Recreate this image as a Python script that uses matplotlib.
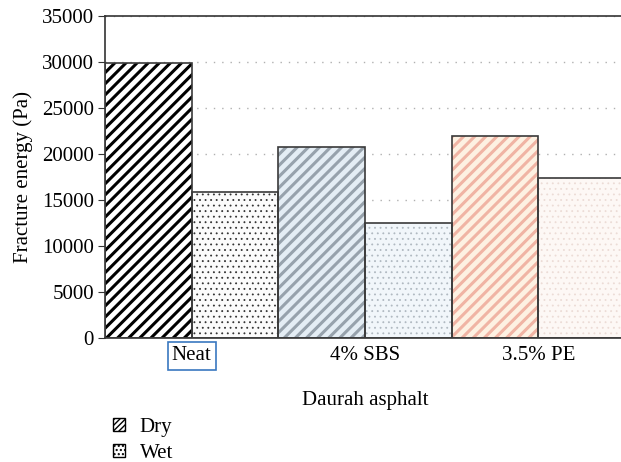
import matplotlib.pyplot as plt
import numpy as np
from matplotlib.patches import Patch

plt.rcParams['font.family'] = ['Liberation Serif', 'DejaVu Serif']

categories = ['Neat', '4% SBS', '3.5% PE']
dry = [29900, 20800, 22000]
wet = [15900, 12500, 17400]

# fill colour and hatch colour per bar
dry_face = ['white', '#e4edf4', '#fdf1e2']
dry_hatch = ['black', '#97a2ac', '#f0b4a4']
wet_face = ['#fbfbfb', '#f1f6fa', '#fdf8f5']
wet_hatch = ['#333333', '#b0b9c1', '#ecdcd6']

fig = plt.figure(figsize=(6.21, 4.62), dpi=100)
ax = fig.add_axes([105/621, 1-338/462, 520/621, 322/462])

x = np.arange(len(categories))
w = 0.5

ax.set_axisbelow(True)
ax.yaxis.grid(True, linestyle=(0, (1, 5)), color='#b0b0b0', linewidth=1.0)

for i in range(len(categories)):
    with plt.rc_context({'hatch.linewidth': 2.2}):
        ax.bar(x[i] - w/2, dry[i], w, color=dry_face[i], edgecolor=dry_hatch[i],
               hatch='///', linewidth=0, zorder=2)
    with plt.rc_context({'hatch.linewidth': 0.6}):
        ax.bar(x[i] + w/2, wet[i], w, color=wet_face[i], edgecolor=wet_hatch[i],
               hatch='...', linewidth=0, zorder=2)
ax.bar(x - w/2, dry, w, facecolor='none', edgecolor='#3a3a3a', linewidth=1.2, zorder=3)
ax.bar(x + w/2, wet, w, facecolor='none', edgecolor='#3a3a3a', linewidth=1.2, zorder=3)

ax.set_xlim(-0.5, 2.5)
ax.set_ylim(0, 35000)
ax.set_yticks(np.arange(0, 35001, 5000))
ax.set_xticks(x)
ax.set_xticklabels(categories, fontsize=15)
ax.tick_params(axis='y', labelsize=15, length=5, color='#333333', pad=3)
ax.tick_params(axis='x', length=0, pad=6)
for s in ['top', 'left', 'bottom']:
    ax.spines[s].set_color('#333333')
    ax.spines[s].set_linewidth(1.2)
ax.spines['right'].set_visible(False)

ax.get_xticklabels()[0].set_bbox(dict(facecolor='none', edgecolor='#3a78c0',
                                      linewidth=1.2, pad=3))

ax.set_ylabel('Fracture energy (Pa)', fontsize=15, labelpad=6)
fig.text(365/621, 1-400/462, 'Daurah asphalt', fontsize=15, ha='center', va='center')

handles = [Patch(facecolor='white', edgecolor='black', hatch='//////', linewidth=1),
           Patch(facecolor='white', edgecolor='black', hatch='....', linewidth=1)]
fig.legend(handles, ['Dry', 'Wet'], loc='upper left',
           bbox_to_anchor=(98/621, 1-403/462), frameon=False, fontsize=15,
           handlelength=0.6, handleheight=0.6, handletextpad=0.7, labelspacing=0.35,
           borderpad=0.2)

fig.savefig('out.png', dpi=100)
